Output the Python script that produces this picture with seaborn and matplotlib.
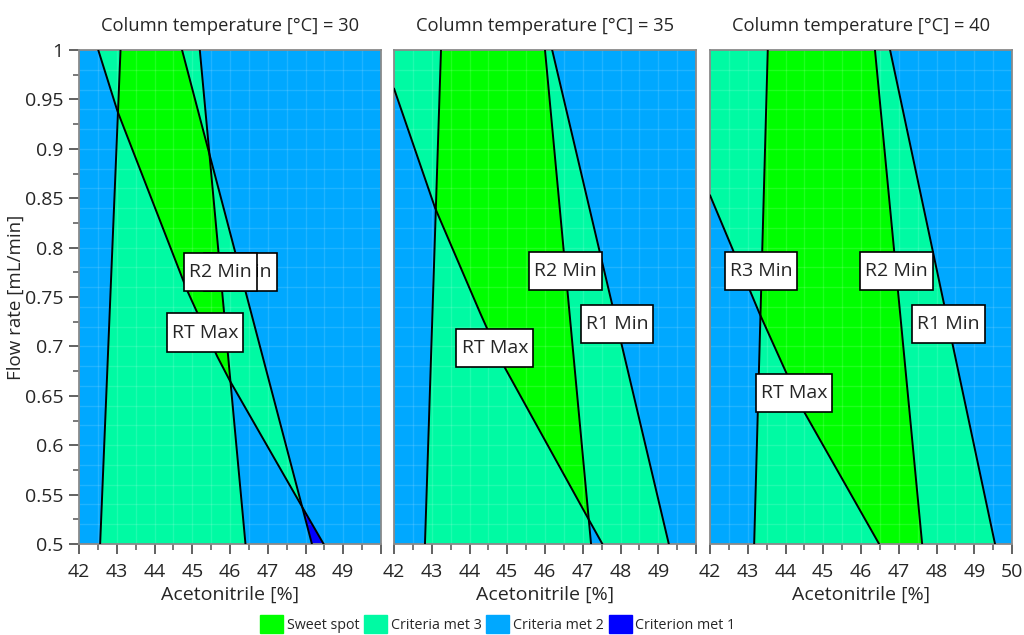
import numpy as np
import matplotlib
matplotlib.use("Agg")
import matplotlib.pyplot as plt
import seaborn as sns
from matplotlib.colors import ListedColormap, BoundaryNorm
from matplotlib.patches import Patch
from matplotlib.path import Path
from matplotlib.ticker import MultipleLocator, FuncFormatter

# ---------------- data ----------------
temperatures = [30, 35, 40]

# R3 Min boundary (criterion met to the right)
r3_acn = [[43.10, 42.56], [43.245, 42.82], [43.53, 43.17]]
r3_flow = [[1.0, 0.5], [1.0, 0.5], [1.0, 0.5]]

# R2 Min boundary (criterion met to the left)
r2_acn = [[45.20, 46.41], [46.00, 47.22], [46.37, 47.62]]
r2_flow = [[1.0, 0.5], [1.0, 0.5], [1.0, 0.5]]

# R1 Min boundary (criterion met to the left)
r1_acn = [[44.73, 48.17], [46.19, 47.46, 49.28], [46.77, 49.55]]
r1_flow = [[1.0, 0.5], [1.0, 0.794, 0.5], [1.0, 0.5]]

# RT Max boundary (criterion met above / right of the curve)
rt_acn = [[42.51, 43.02, 44.86, 45.66, 46.00, 48.01, 48.48],
          [42.00, 43.09, 44.28, 44.90, 47.17, 47.52],
          [42.00, 43.31, 44.46, 46.48]]
rt_flow = [[1.0, 0.938, 0.757, 0.690, 0.665, 0.531, 0.5],
           [0.961, 0.840, 0.734, 0.681, 0.524, 0.5],
           [0.853, 0.7335, 0.636, 0.5]]

# label boxes: (text, acetonitrile, flow rate)
labels = [
    [("R1 Min", 46.28, 0.775), ("R2 Min", 45.75, 0.775), ("RT Max", 45.34, 0.714)],
    [("R2 Min", 46.54, 0.776), ("R1 Min", 47.91, 0.723), ("RT Max", 44.67, 0.698)],
    [("R3 Min", 43.35, 0.776), ("R2 Min", 46.95, 0.776), ("R1 Min", 48.31, 0.723),
     ("RT Max", 44.23, 0.653)],
]

legend_names = ["Sweet spot", "Criteria met 3", "Criteria met 2", "Criterion met 1"]
legend_colors = ["#00FF00", "#00FAA3", "#00A8FF", "#0000FF"]

x_range = (42, 50)
y_range = (0.5, 1.0)

# ---------------- style ----------------
sns.set_theme(style="white")
plt.rcParams["font.family"] = ["Open Sans", "DejaVu Sans"]
plt.rcParams["axes.edgecolor"] = "#8a8a8a"
plt.rcParams["axes.linewidth"] = 1.3

fig = plt.figure(figsize=(10.24, 6.35), dpi=100)
lefts = [79 / 1024, 394 / 1024, 710 / 1024]
width = 302 / 1024
bottom = 1 - 544 / 635
height = 494 / 635

cmap = ListedColormap([legend_colors[3], legend_colors[2], legend_colors[1], legend_colors[0]])
cmap.set_under(legend_colors[3])
norm = BoundaryNorm([0.5, 1.5, 2.5, 3.5, 4.5], cmap.N)

gx = np.linspace(x_range[0], x_range[1], 1600)
gy = np.linspace(y_range[0], y_range[1], 1000)
X, Y = np.meshgrid(gx, gy)


def bx(acn, flow):
    acn = np.asarray(acn, float)
    flow = np.asarray(flow, float)
    o = np.argsort(flow)
    return np.interp(gy, flow[o], acn[o])[:, None]


def label_box(x0, y0, w, h, mutation_size):
    px = 0.26 * mutation_size
    py = 0.52 * mutation_size
    a, b = x0 - px, y0 - py
    c, d = x0 + w + px, y0 + h + py
    return Path([(a, b), (c, b), (c, d), (a, d), (a, b)], closed=True)


TICK = 14
for i, t in enumerate(temperatures):
    ax = fig.add_axes([lefts[i], bottom, width, height])
    met = ((X > bx(r3_acn[i], r3_flow[i])).astype(int)
           + (X < bx(r2_acn[i], r2_flow[i])).astype(int)
           + (X < bx(r1_acn[i], r1_flow[i])).astype(int)
           + (X > bx(rt_acn[i], rt_flow[i])).astype(int))
    ax.imshow(met, extent=(x_range[0], x_range[1], y_range[0], y_range[1]),
              origin="lower", aspect="auto", cmap=cmap, norm=norm,
              interpolation="nearest", zorder=0)
    # faint background grid
    for gxv in np.arange(42.5, 50, 0.5):
        ax.axvline(gxv, color="white", alpha=0.13, lw=1, zorder=1)
    for gyv in np.arange(0.52, 1.0, 0.02):
        ax.axhline(gyv, color="white", alpha=0.13, lw=1, zorder=1)

    for acn, flow in [(r3_acn[i], r3_flow[i]), (r2_acn[i], r2_flow[i]),
                      (r1_acn[i], r1_flow[i]), (rt_acn[i], rt_flow[i])]:
        sns.lineplot(x=acn, y=flow, sort=False, estimator=None, color="black",
                     lw=1.4, ax=ax, zorder=3)

    for k, (txt, lx, ly) in enumerate(labels[i]):
        ax.text(lx, ly, txt, ha="center", va="center", fontsize=14, zorder=5 + k,
                bbox=dict(boxstyle=label_box, fc="white", ec="black", lw=1.2))

    ax.set_xlim(*x_range)
    ax.set_ylim(*y_range)
    ax.xaxis.set_major_locator(MultipleLocator(1))
    ax.xaxis.set_minor_locator(MultipleLocator(0.5))
    last = 50 if i == 2 else 49
    ax.xaxis.set_major_formatter(FuncFormatter(lambda v, p, last=last: f"{v:g}" if v <= last else ""))
    ax.tick_params(axis="x", which="major", direction="out", length=7, width=1.3,
                   color="#555555", labelsize=TICK, pad=7, bottom=True)
    ax.tick_params(axis="x", which="minor", direction="out", length=4, width=1.1,
                   color="#555555", bottom=True)
    if i == 0:
        ax.yaxis.set_major_locator(MultipleLocator(0.05))
        ax.yaxis.set_minor_locator(MultipleLocator(0.025))
        ax.yaxis.set_major_formatter(FuncFormatter(lambda v, p: f"{round(v, 2):g}"))
        ax.tick_params(axis="y", which="major", direction="out", length=7, width=1.3,
                       color="#555555", labelsize=TICK, pad=4, left=True)
        ax.tick_params(axis="y", which="minor", direction="out", length=4, width=1.1,
                       color="#555555", left=True)
        ax.set_ylabel("Flow rate [mL/min]", fontsize=13.5, labelpad=0)
    else:
        ax.set_yticks([])
        ax.set_ylabel("")
    ax.set_xlabel("Acetonitrile [%]", fontsize=14, labelpad=3)
    ax.set_title(f"Column temperature [°C] = {t}", fontsize=13.2, pad=14)

handles = [Patch(facecolor=c, edgecolor=c) for c in legend_colors]
fig.legend(handles, legend_names, loc="lower center", bbox_to_anchor=(0.486, -0.006),
           ncol=4, frameon=False, fontsize=10.3, handlelength=1.6, handleheight=1.6,
           handletextpad=0.25, columnspacing=0.35, borderaxespad=0.0)

fig.savefig("out.png", dpi=100)
